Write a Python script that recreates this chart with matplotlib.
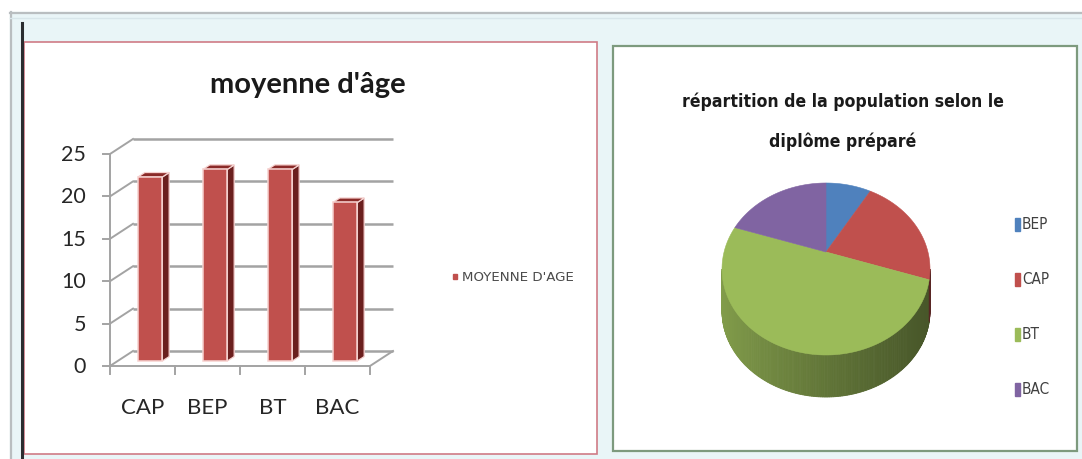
import numpy as np
import matplotlib
matplotlib.use("Agg")
import matplotlib.pyplot as plt
from matplotlib.patches import Polygon, Rectangle

W, H = 1082, 460

# mean age per diploma (3D column chart)
bar_cats = ["CAP", "BEP", "BT", "BAC"]
bar_ages = [21.7, 22.6, 22.6, 18.7]
age_ticks = [0, 5, 10, 15, 20, 25]
bar_title = "moyenne d'âge"
bar_series = "MOYENNE D'AGE"

# share of people per diploma being prepared (3D pie)
pie_cats = ["BEP", "CAP", "BT", "BAC"]
pie_shares = [7, 20, 56, 17]
pie_colors = ["#4f81bd", "#c0504d", "#9bbb59", "#8064a2"]
pie_title = "répartition de la population selon le\ndiplôme préparé"

LEFT_FONT = "Lato"
NARROW = dict(family="DejaVu Sans", fontstretch="condensed")
TEXT = "#262626"
GRID = "#a3a3a3"
BAR_FACE, BAR_SIDE, BAR_TOP, BAR_EDGE = "#c0504d", "#6b1f1e", "#8a2a28", "#f6d2d0"


def px_axes(fig, x0, y0, x1, y1, z=1):
    ax = fig.add_axes([x0 / W, 1 - y1 / H, (x1 - x0) / W, (y1 - y0) / H], zorder=z)
    ax.set_axis_off()
    ax.patch.set_alpha(0)
    return ax


fig = plt.figure(figsize=(W / 100, H / 100), dpi=100)

# window frame around the two charts, in pixel units
bg = px_axes(fig, 0, 0, W, H, z=0)
bg.set_xlim(0, W)
bg.set_ylim(H, 0)
bg.add_patch(Rectangle((0, 0), W, H, color="white"))
bg.add_patch(Rectangle((10, 13), W - 10, H - 13, color="#e9f5f7"))
bg.plot([10, W], [13.5, 13.5], color="#b9bec0", lw=1.6)
bg.plot([10.5, 10.5], [13, H], color="#b9bec0", lw=1.6)
bg.plot([10, W], [19, 19], color="#d8e6ea", lw=1.0)
bg.plot([21.5, 21.5], [24, H], color="#2a2d30", lw=2.2)
bg.add_patch(Rectangle((24, 43), 573, 412, facecolor="white", edgecolor="#cf7b86", lw=1.2))
bg.add_patch(Rectangle((613, 47), 464, 405, facecolor="white", edgecolor="#7d9a7e", lw=1.6))

# ---- column chart -------------------------------------------------------
X0, Y0, CAT_PX, UNIT_PX = 110, 367, 65, 8.48
DX, DV = 23 / CAT_PX, 15 / UNIT_PX          # depth offset of the back wall
axb = px_axes(fig, 30, 110, 430, 440, z=2)
axb.set_xlim((30 - X0) / CAT_PX, (430 - X0) / CAT_PX)
axb.set_ylim((Y0 - 440) / UNIT_PX, (Y0 - 110) / UNIT_PX)
n = len(bar_cats)
top = age_ticks[-1]

for v in age_ticks:
    axb.plot([DX, n + DX], [v + DV, v + DV], color=GRID, lw=1.8, solid_capstyle="butt")
    axb.plot([0, DX], [v, v + DV], color=GRID, lw=1.4)
    axb.plot([-0.11, 0], [v, v], color=GRID, lw=1.4)
    axb.text(-0.37, v, str(v), ha="right", va="center", fontsize=15.5,
             family=LEFT_FONT, color=TEXT)
axb.plot([0, 0], [-0.9, top], color=GRID, lw=1.4)
axb.plot([0, n, n + DX], [0, 0, DV], color=GRID, lw=1.4)
for i in range(1, n + 1):
    axb.plot([i, i], [0, -0.9], color=GRID, lw=1.4)

BAR_W, D0, DD = 0.375, 0.33, 0.30
for i, (cat, h) in enumerate(zip(bar_cats, bar_ages)):
    xl = i + 0.5 - BAR_W / 2 + DX * D0
    xr = xl + BAR_W
    vb = DV * D0
    vt = vb + h
    ox, ov = DX * DD, DV * DD
    axb.add_patch(Polygon([(xr, vb), (xr, vt), (xr + ox, vt + ov), (xr + ox, vb + ov)],
                          facecolor=BAR_SIDE, edgecolor=BAR_EDGE, lw=0.9, zorder=4))
    axb.add_patch(Polygon([(xl, vt), (xr, vt), (xr + ox, vt + ov), (xl + ox, vt + ov)],
                          facecolor=BAR_TOP, edgecolor=BAR_EDGE, lw=0.9, zorder=4))
    axb.add_patch(Rectangle((xl, vb), BAR_W, h, facecolor=BAR_FACE,
                            edgecolor=BAR_EDGE, lw=1.1, zorder=5))
    axb.text(i + 0.5, -4.83, cat, ha="center", va="center", fontsize=16,
             family=LEFT_FONT, color=TEXT)

bg.text(308, 85, bar_title, ha="center", va="center", fontsize=21,
        fontweight="bold", family=LEFT_FONT, color="#1a1a1a")
bg.add_patch(Rectangle((452.5, 274.5), 4.5, 5, color=BAR_FACE))
bg.text(462, 277.5, bar_series, ha="left", va="center", fontsize=9.6,
        family="DejaVu Sans", color="#4a4a4a")

# ---- 3D pie -------------------------------------------------------------
CX, CY, RX, RY, DEPTH, LIFT = 826, 270, 104, 86, 42, 17
axp = px_axes(fig, 690, 160, 960, 420, z=2)
axp.set_xlim(690 - CX, 960 - CX)
axp.set_ylim(420 - CY, 160 - CY)

shares = np.array(pie_shares, dtype=float)
bounds = 90 - 360 * np.concatenate([[0], np.cumsum(shares)]) / shares.sum()


def rim(t):
    t = np.radians(t)
    return RX * np.cos(t), -RY * np.sin(t)


def owner(a):
    for k in range(len(shares)):
        if bounds[k + 1] <= a <= bounds[k]:
            return k
    return len(shares) - 1


# front wall, shaded from left to right
steps = np.linspace(-180, 0, 181)
for a0, a1 in zip(steps[:-1], steps[1:]):
    mid = (a0 + a1) / 2
    k = owner(mid)
    u = (np.cos(np.radians(mid)) + 1) / 2
    f = 0.84 - 0.38 * u ** 0.85
    base = np.array(matplotlib.colors.to_rgb(pie_colors[k]))
    c = np.clip(base * f, 0, 1)
    x0, y0 = rim(a0)
    x1, y1 = rim(a1)
    axp.add_patch(Polygon([(x0, y0), (x1, y1), (x1, y1 + DEPTH), (x0, y0 + DEPTH)],
                          facecolor=c, edgecolor=c, lw=0.6, zorder=2))

# top face wedges
for k, col in enumerate(pie_colors):
    ts = np.linspace(bounds[k], bounds[k + 1], 80)
    xs, ys = rim(ts)
    pts = [(0, -LIFT)] + list(zip(xs, ys))
    axp.add_patch(Polygon(pts, facecolor=col, edgecolor=col, lw=0.4, zorder=3))

bg.text(843, 121.5, pie_title, ha="center", va="center", fontsize=12.6,
        fontweight="bold", color="#1a1a1a", linespacing=2.45, **NARROW)
for k, (cat, col) in enumerate(zip(pie_cats, pie_colors)):
    y = 225 + 55 * k
    bg.add_patch(Rectangle((1015, y - 6.5), 5, 13, color=col))
    bg.text(1022, y, cat, ha="left", va="center", fontsize=11,
            color="#404040", **NARROW)

fig.savefig("out.png", dpi=100)
